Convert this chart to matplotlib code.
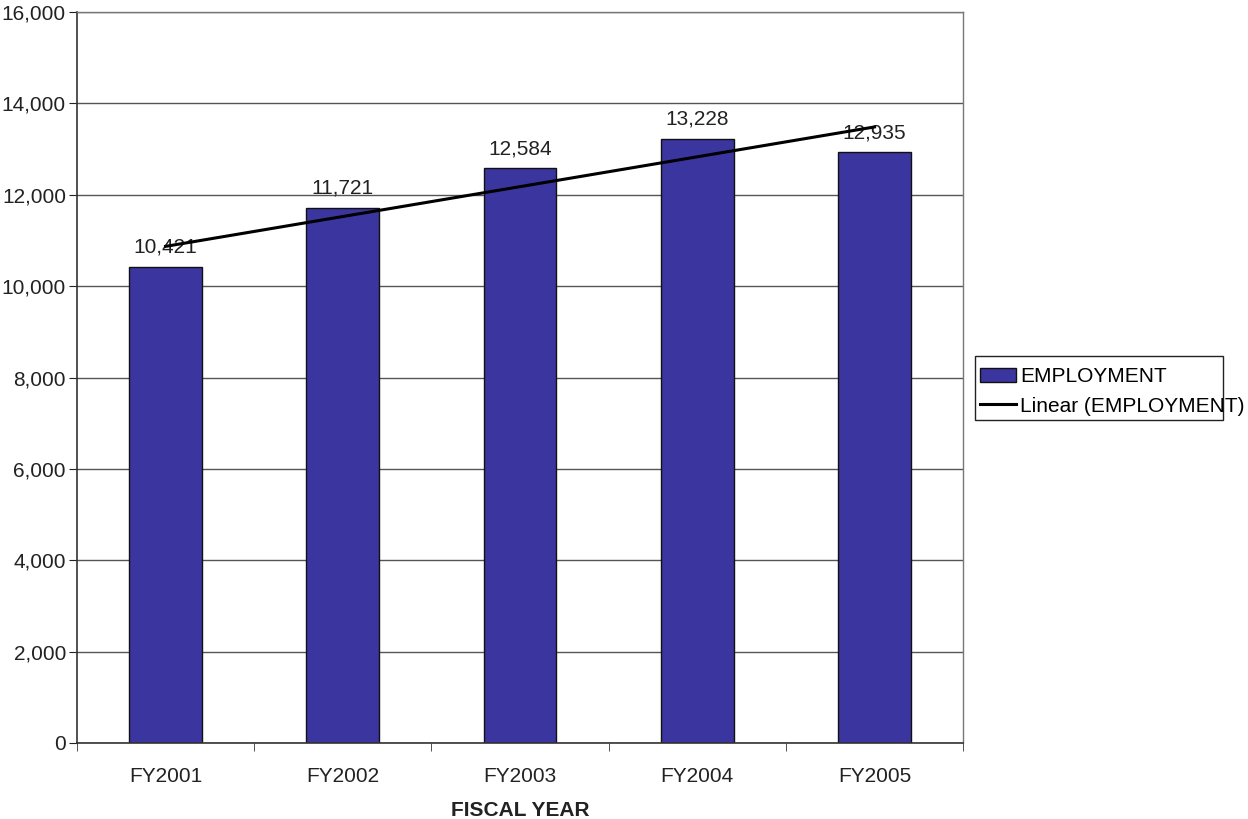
import numpy as np
import matplotlib
matplotlib.use("Agg")
import matplotlib.pyplot as plt
from matplotlib.patches import Rectangle
from matplotlib.ticker import FuncFormatter

# Employment by fiscal year
years = ["FY2001", "FY2002", "FY2003", "FY2004", "FY2005"]
employment = [10421, 11721, 12584, 13228, 12935]

plt.rcParams['font.family'] = ['Liberation Sans', 'DejaVu Sans']

fig = plt.figure(figsize=(12.48, 8.19), dpi=100)
ax = fig.add_axes([0.0617, 0.0928, 0.710, 0.8925])

x = np.arange(1, len(years) + 1)
bars = ax.bar(x, employment, width=0.41, color='#3b35a0', edgecolor='#111111',
              linewidth=1.0, label='EMPLOYMENT', zorder=2)

# least-squares trend line across the bars
slope, intercept = np.polyfit(x, employment, 1)
trend, = ax.plot(x, slope * x + intercept, color='black', linewidth=2.2,
                 label='Linear (EMPLOYMENT)', zorder=4)

for xi, v in zip(x, employment):
    ax.text(xi, v + 220, f"{v:,}", ha='center', va='bottom', fontsize=15,
            color='#222222', zorder=3)

ax.set_xlim(0.5, len(years) + 0.5)
ax.set_ylim(0, 16000)
ax.set_yticks(np.arange(0, 16001, 2000))
ax.yaxis.set_major_formatter(FuncFormatter(lambda v, p: f"{int(v):,}"))
ax.yaxis.grid(True, color='#555555', linewidth=1.0, zorder=0)
ax.set_axisbelow(True)

# category labels centred, tick marks on the category boundaries
ax.set_xticks(x)
ax.set_xticklabels(years)
ax.tick_params(axis='x', length=0, labelsize=15, pad=17, colors='#222222')
ax.set_xticks(np.arange(0.5, len(years) + 1), minor=True)
ax.tick_params(axis='x', which='minor', length=6, direction='out', color='#333333')
ax.tick_params(axis='y', length=6, direction='out', labelsize=15, pad=2,
               colors='#222222')

for side in ['top', 'right']:
    ax.spines[side].set_color('#777777')
    ax.spines[side].set_linewidth(1.0)
for side in ['left', 'bottom']:
    ax.spines[side].set_color('#333333')
    ax.spines[side].set_linewidth(1.2)

ax.set_xlabel("FISCAL YEAR", fontsize=15, fontweight='bold', labelpad=11,
              color='#222222')

# legend text runs slightly past its box, so the box is drawn on its own
fig.legend([bars, trend], ['EMPLOYMENT', 'Linear (EMPLOYMENT)'],
           loc='upper left', bbox_to_anchor=(0.7805, 0.5592),
           fontsize=15, frameon=False, borderpad=0.3,
           handlelength=1.7, handletextpad=0.2, labelspacing=0.5,
           borderaxespad=0)
fig.add_artist(Rectangle((975 / 1248, 1 - 420 / 819), 248 / 1248, 64 / 819,
                         transform=fig.transFigure, fill=False,
                         edgecolor='#222222', linewidth=1.0))

fig.savefig("out.png", dpi=100)
